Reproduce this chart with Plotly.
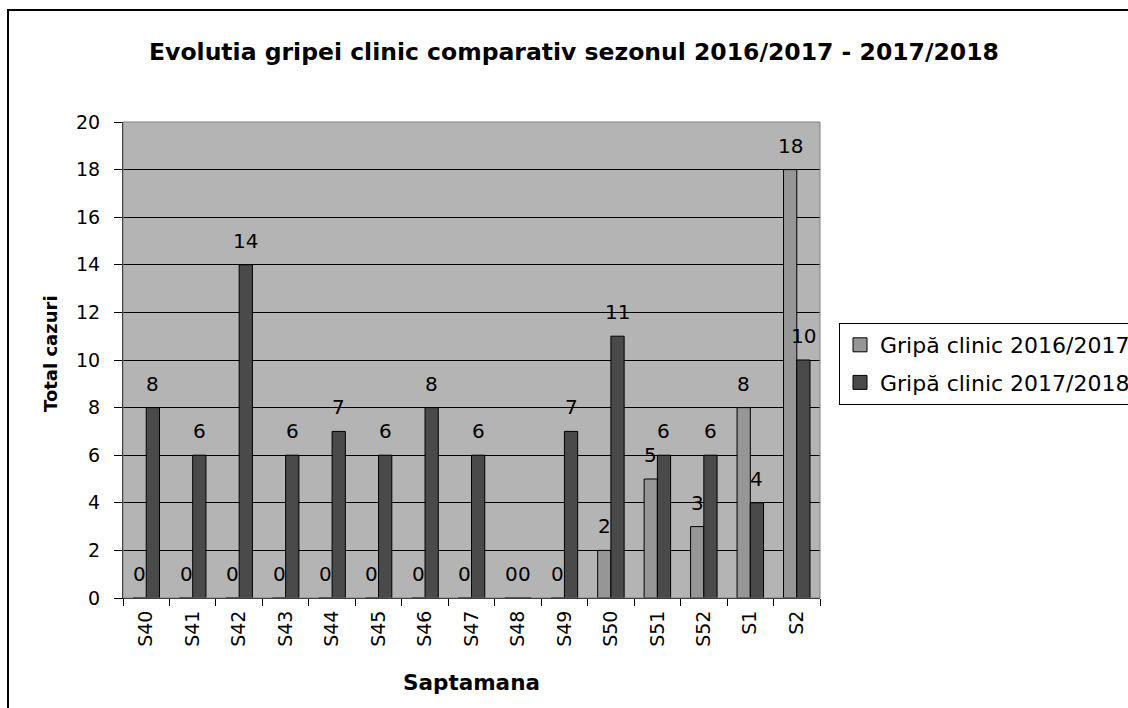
"""Evolutia gripei clinic - grouped bar chart, Excel style."""

import plotly.graph_objects as go

# Data
weeks = ["S40", "S41", "S42", "S43", "S44", "S45", "S46", "S47",
         "S48", "S49", "S50", "S51", "S52", "S1", "S2"]
cases_2016_2017 = [0, 0, 0, 0, 0, 0, 0, 0, 0, 0, 2, 5, 3, 8, 18]
cases_2017_2018 = [8, 6, 14, 6, 7, 6, 8, 6, 0, 7, 11, 6, 6, 4, 10]
series_names = ["Gripă clinic 2016/2017", "Gripă clinic 2017/2018"]
y_ticks = list(range(0, 21, 2))

FONT = "DejaVu Sans"
COLORS = ["#969696", "#4a4a4a"]
BG = "#b4b4b4"
BARGAP = 0.43
# half of one bar's width in pixels: plot width / categories * (1-gap) / 2 / 2
BAR_HALF = 697 / len(weeks) * (1 - BARGAP) / 4

fig = go.Figure()

for i, (name, values) in enumerate(zip(series_names, [cases_2016_2017, cases_2017_2018])):
    fig.add_trace(
        go.Bar(
            x=weeks,
            y=values,
            name=name,
            marker={"color": COLORS[i], "line": {"color": "black", "width": 1}},
            showlegend=False,
        )
    )

# Legend entries with square swatches like Excel
for i, name in enumerate(series_names):
    fig.add_trace(
        go.Scatter(
            x=[None],
            y=[None],
            mode="markers",
            name=name,
            marker={"symbol": "square", "size": 14, "color": COLORS[i],
                    "line": {"color": "black", "width": 1}},
            legendgroup=f"g{i}",
        )
    )

# Data labels above each bar (Excel places them well above the bar top)
annotations = []
for shift, values in [(-BAR_HALF, cases_2016_2017), (BAR_HALF, cases_2017_2018)]:
    for week, v in zip(weeks, values):
        annotations.append(
            dict(
                x=week,
                y=v,
                text=str(v),
                showarrow=False,
                xshift=shift,
                yshift=24,
                yanchor="middle",
                font={"family": FONT, "size": 20, "color": "black"},
            )
        )

# y axis title, placed like Excel (slightly above the plot's middle)
annotations.append(
    dict(
        text="<b>Total cazuri</b>",
        xref="paper",
        yref="paper",
        x=(50 - 123) / 697,
        y=(598 - 354) / 476,
        textangle=-90,
        showarrow=False,
        xanchor="center",
        yanchor="middle",
        font={"family": FONT, "size": 18, "color": "black"},
    )
)

fig.update_layout(
    width=1128,
    height=708,
    margin={"l": 123, "r": 308, "t": 122, "b": 110},
    paper_bgcolor="white",
    plot_bgcolor=BG,
    barmode="group",
    bargap=BARGAP,
    bargroupgap=0,
    font={"family": FONT, "color": "black"},
    title={
        "text": "<b>Evolutia gripei clinic comparativ sezonul 2016/2017 - 2017/2018</b>",
        "x": 574 / 1128,
        "xanchor": "center",
        "y": 1 - 52 / 708,
        "yanchor": "middle",
        "font": {"family": FONT, "size": 23.5, "color": "black"},
    },
    legend={
        "xref": "container",
        "yref": "container",
        "x": 839 / 1128,
        "xanchor": "left",
        "y": 1 - 323 / 708,
        "yanchor": "top",
        "bordercolor": "black",
        "borderwidth": 1,
        "bgcolor": "white",
        "font": {"family": FONT, "size": 22, "color": "black"},
        "tracegroupgap": 6,
        "traceorder": "grouped",
        "itemwidth": 30,
    },
    showlegend=True,
    annotations=annotations,
    shapes=[
        # plot area border
        dict(type="rect", xref="paper", yref="paper", x0=0, x1=1, y0=0, y1=1,
             line={"color": "#808080", "width": 1}, layer="above"),
        # outer chart frame (only left/top edges are visible in the window)
        dict(type="rect", xref="paper", yref="paper",
             x0=(8 - 123) / 697, x1=2, y0=-1, y1=(598 - 10) / 476,
             line={"color": "black", "width": 2}),
    ],
)

fig.update_xaxes(
    title={"text": "<b>Saptamana</b>", "font": {"family": FONT, "size": 21.5}, "standoff": 29},
    tickangle=-90,
    tickfont={"family": FONT, "size": 19, "color": "black"},
    ticks="outside",
    tickson="boundaries",
    ticklen=7,
    tickcolor="black",
    showline=True,
    linecolor="black",
    linewidth=1,
    showgrid=False,
    ticklabelstandoff=4,
)

fig.update_yaxes(
    range=[0, 20],
    tickvals=y_ticks,
    tickfont={"family": FONT, "size": 19, "color": "black"},
    ticks="outside",
    ticklen=8,
    tickcolor="black",
    showline=True,
    linecolor="black",
    linewidth=1,
    showgrid=True,
    gridcolor="black",
    gridwidth=1,
    zeroline=False,
    ticklabelstandoff=10,
)

fig.write_html(
    "out.html",
    config={"displayModeBar": False},
    post_script="document.body.style.margin = '0';",
)
